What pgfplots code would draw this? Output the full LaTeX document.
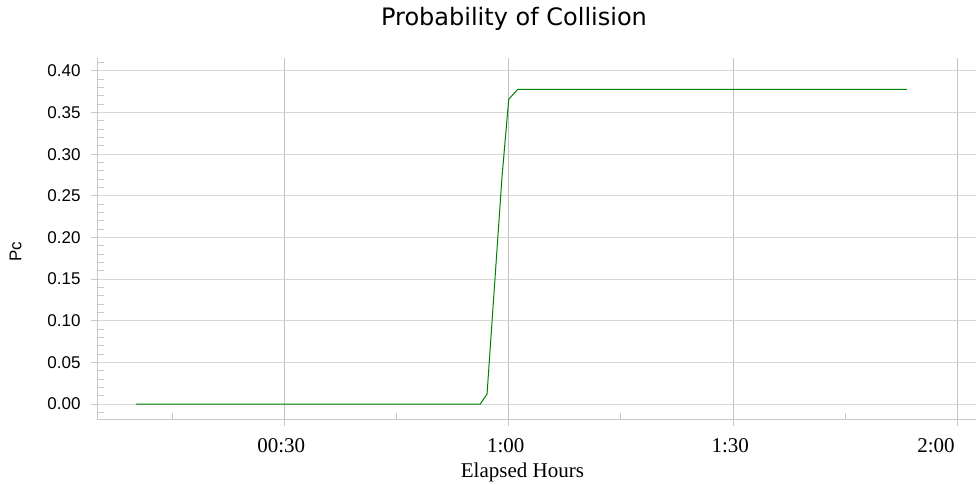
\documentclass[border=0pt]{standalone}
\usepackage{fontspec}
\setmainfont{Liberation Serif}
\newfontfamily\arialf{Liberation Sans}
\newfontfamily\titlef{DejaVu Sans}
\usepackage{pgfplots}
\pgfplotsset{compat=1.18}
\definecolor{hgridc}{RGB}{215,215,215}
\definecolor{vgridc}{RGB}{195,195,195}
\definecolor{spinec}{RGB}{200,200,200}
\definecolor{linec}{RGB}{0,128,0}
\begin{document}
\begin{tikzpicture}
\begin{axis}[
  at={(97pt,64pt)}, anchor=south west,
  scale only axis, width=879pt, height=362pt,
  xmin=4.97, xmax=122.45, ymin=-0.0192, ymax=0.4156,
  axis x line*=bottom, axis y line*=left,
  axis line style={draw=spinec, line width=1pt},
  xtick={30,60,90,120},
  xticklabels={00:30,1:00,1:30,\makebox[0pt][r]{2:00}},
  minor xtick={15,45,75,105},
  ytick={0,0.05,0.10,0.15,0.20,0.25,0.30,0.35,0.40},
  minor ytick={-0.01,0.01,0.02,0.03,0.04,0.06,0.07,0.08,0.09,0.11,0.12,0.13,0.14,0.16,0.17,0.18,0.19,0.21,0.22,0.23,0.24,0.26,0.27,0.28,0.29,0.31,0.32,0.33,0.34,0.36,0.37,0.38,0.39,0.41},
  yticklabel style={font=\arialf\fontsize{17}{20}\selectfont, text=black, xshift=-7pt,
    /pgf/number format/fixed, /pgf/number format/fixed zerofill,
    /pgf/number format/precision=2, /pgf/number format/assume math mode=true},
  xticklabel style={font=\fontsize{21}{24}\selectfont, text=black, xshift=-3pt, yshift=-9pt},
  tick align=outside,
  major tick length=6pt, minor tick length=-7pt,
  tick style={draw=spinec, line width=1pt},
  xmajorgrids, ymajorgrids,
  x grid style={draw=vgridc, line width=1.2pt},
  y grid style={draw=hgridc, line width=1pt},
  title={Probability of Collision},
  title style={at={(axis description cs:0.4744,1.0912)}, anchor=base, yshift=-7pt, font=\titlef\fontsize{24}{28}\selectfont},
  xlabel={Elapsed Hours},
  xlabel style={at={(axis description cs:0.484,-0.1575)}, anchor=base, yshift=0pt, font=\fontsize{21}{24}\selectfont},
  ylabel={Pc},
  ylabel style={at={(axis description cs:-0.0927,0.464)}, anchor=center, font=\arialf\fontsize{17}{20}\selectfont},
]
\addplot[linec, line width=1pt] coordinates {
  (10.2,0) (56.2,0) (57.1,0.012) (59.1,0.273) (60.0,0.366) (61.2,0.378) (113.2,0.378)
};
\end{axis}
\pgfresetboundingbox
\path (0pt,0pt) rectangle (976pt,484pt);
\end{tikzpicture}
\end{document}
